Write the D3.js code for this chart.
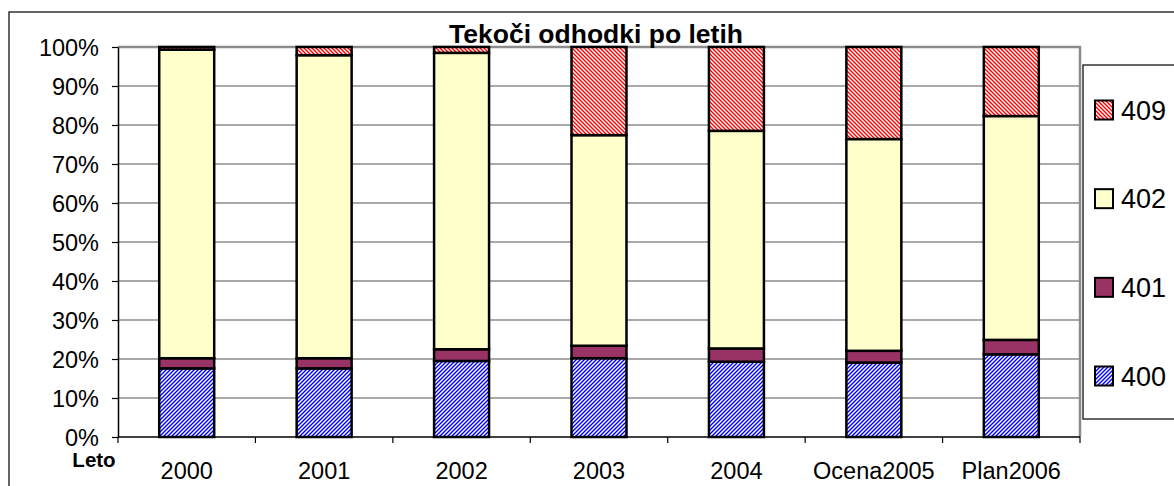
<!DOCTYPE html>
<html><head><meta charset="utf-8">
<script src="https://cdn.jsdelivr.net/npm/d3@7"></script>
<style>
html,body{margin:0;padding:0;background:#fff;}
svg{display:block;font-family:"Liberation Sans",Arial,sans-serif;}
</style></head>
<body>
<svg id="chart" width="1174" height="486"></svg>
<script>
const title = "Tekoči odhodki po letih";
const categories = ["2000","2001","2002","2003","2004","Ocena2005","Plan2006"];
const seriesNames = ["400","401","402","409"];
const s400 = [17.6, 17.6, 19.5, 20.2, 19.3, 19.1, 21.2];
const s401 = [2.6, 2.6, 3.0, 3.2, 3.4, 3.0, 3.7];
const s402 = [79.1, 77.7, 76.0, 54.0, 55.8, 54.3, 57.4];
const s409 = [0.7, 2.1, 1.5, 22.6, 21.5, 23.6, 17.7];
const yTicks = [0,0.1,0.2,0.3,0.4,0.5,0.6,0.7,0.8,0.9,1.0];

const svg = d3.select("#chart");
const defs = svg.append("defs");
function hatch(id, color, dir){
  const p = defs.append("pattern").attr("id", id).attr("patternUnits","userSpaceOnUse")
    .attr("width",4).attr("height",4);
  p.append("rect").attr("width",4).attr("height",4).attr("fill","#fff");
  if(dir === "up"){
    p.append("path").attr("d","M-1,1 l2,-2 M0,4 l4,-4 M3,5 l2,-2").attr("stroke",color).attr("stroke-width",1.4);
  } else {
    p.append("path").attr("d","M-1,3 l2,2 M0,0 l4,4 M3,-1 l2,2").attr("stroke",color).attr("stroke-width",1.4);
  }
}
hatch("p400","#0000ff","up");
hatch("p409","#ff0000","down");
const fills = {"400":"url(#p400)","401":"#993366","402":"#ffffcc","409":"url(#p409)"};

const L = 118, R = 1080, T = 47, B = 437;
const x = d3.scaleBand().domain(categories).range([L,R]).paddingInner(0.6).paddingOuter(0.3);
const y = d3.scaleLinear().domain([0,1]).range([B,T]);

// outer chart border
svg.append("rect").attr("x",9).attr("y",12).attr("width",1200).attr("height",500)
  .attr("fill","none").attr("stroke","#000").attr("stroke-width",1.2);

// gridlines
svg.append("g").selectAll("line").data(yTicks.slice(1,-1)).join("line")
  .attr("x1",L).attr("x2",R).attr("y1",d=>y(d)).attr("y2",d=>y(d))
  .attr("stroke","#555").attr("stroke-width",1.2);

// plot area border (top/right gray)
svg.append("path").attr("d",`M${L},${y(1)} H${R} V${B}`).attr("fill","none")
  .attr("stroke","#8c8c8c").attr("stroke-width",2.5);

// title (drawn before bars so plot lines overlay descenders)
svg.append("text").attr("x",596).attr("y",42.5).attr("text-anchor","middle")
  .attr("font-size",26.5).attr("font-weight","bold").text(title);

// data
const table = categories.map((c,i)=>({cat:c,"400":s400[i],"401":s401[i],"402":s402[i],"409":s409[i]}));
const stack = d3.stack().keys(seriesNames).offset(d3.stackOffsetExpand);
const layers = stack(table);
svg.append("g").selectAll("g").data(layers).join("g")
  .attr("fill",d=>fills[d.key])
  .selectAll("rect").data(d=>d).join("rect")
  .attr("x",d=>x(d.data.cat)).attr("width",x.bandwidth())
  .attr("y",d=>y(d[1])).attr("height",d=>y(d[0])-y(d[1]))
  .attr("stroke","#000").attr("stroke-width",2.5);

// y axis
const yAxis = d3.axisLeft(y).tickValues(yTicks).tickFormat(d3.format(".0%")).tickSize(6).tickSizeOuter(0);
const gy = svg.append("g").attr("transform",`translate(${L},0)`).call(yAxis);
gy.select(".domain").attr("stroke","#000").attr("stroke-width",1.5);
gy.selectAll(".tick line").attr("stroke","#000").attr("stroke-width",1.2);
gy.selectAll("text").attr("font-size",23.5).attr("fill","#000").attr("x",-19).attr("dy","0.35em")
  .attr("font-family","Liberation Sans, Arial, sans-serif");

// x axis
const gx = svg.append("g").attr("transform",`translate(0,${B})`);
gx.append("line").attr("x1",L).attr("x2",R).attr("stroke","#000").attr("stroke-width",1.5);
const step = x.step();
const bounds = categories.map(c=>x(c)+x.bandwidth()/2-step/2).concat([R]);
gx.selectAll("line.tk").data(bounds).join("line").attr("class","tk")
  .attr("x1",d=>d).attr("x2",d=>d).attr("y1",0).attr("y2",6).attr("stroke","#000").attr("stroke-width",1.2);
gx.selectAll("text").data(categories).join("text")
  .attr("x",d=>x(d)+x.bandwidth()/2).attr("y",42).attr("text-anchor","middle")
  .attr("font-size",23.5).attr("fill","#000").text(d=>d);

svg.append("text").attr("x",94).attr("y",467).attr("text-anchor","middle")
  .attr("font-size",20.5).attr("font-weight","bold").text("Leto");

// legend
svg.append("rect").attr("x",1083).attr("y",65).attr("width",120).attr("height",354)
  .attr("fill","#fff").attr("stroke","#000").attr("stroke-width",1.2);
const legOrder = ["409","402","401","400"];
const legY = d3.scalePoint().domain(legOrder).range([110,376]);
const lg = svg.append("g").selectAll("g").data(legOrder).join("g")
  .attr("transform",d=>`translate(1095,${legY(d)})`);
lg.append("rect").attr("x",0).attr("y",-9.5).attr("width",18).attr("height",19)
  .attr("fill",d=>fills[d]).attr("stroke","#000").attr("stroke-width",2);
lg.append("text").attr("x",26).attr("y",0).attr("dy","0.36em").attr("font-size",27).text(d=>d);
</script>
</body></html>
